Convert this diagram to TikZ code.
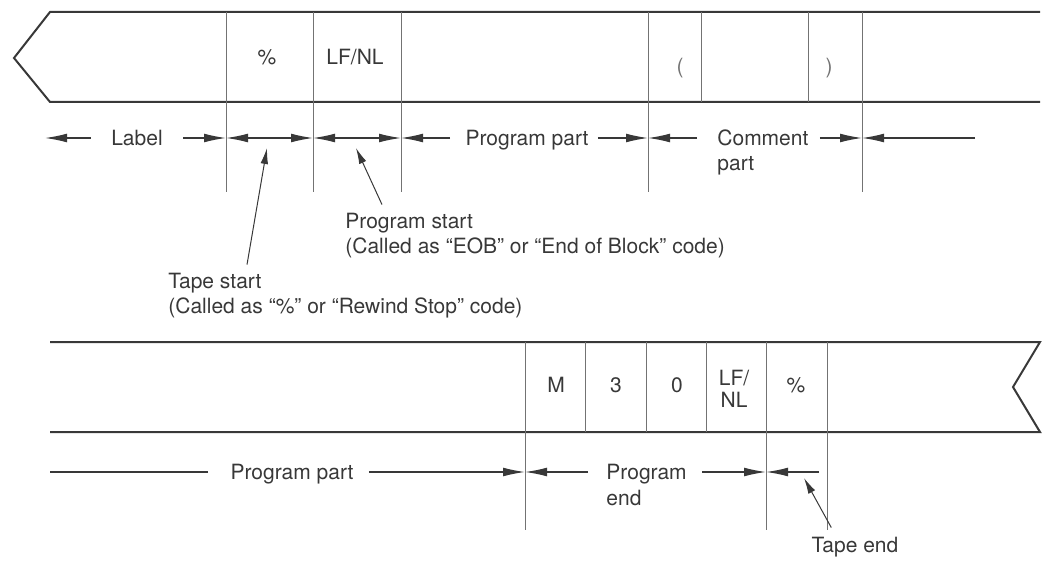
\documentclass[tikz,border=0pt]{standalone}
\usepackage{fontspec}
\setmainfont{TeX Gyre Heros}
\usepackage{tikz}
\usetikzlibrary{arrows.meta}
\usetikzlibrary{positioning}
\definecolor{mgray}{rgb}{0.22, 0.22, 0.22}
\definecolor{lgray}{rgb}{0.45, 0.45, 0.45}
\tikzset{tape/.style = {draw=mgray, line width=1pt, line join=miter}}
\tikzset{cut/.style = {draw=lgray, line width=0.45pt}}
\tikzset{dim/.style = {draw=mgray, line width=0.6pt}}
\tikzset{dimtip/.style = {arrows = {-Latex[length=11pt, width=4.4pt]}}}
\tikzset{dimboth/.style = {arrows = {Latex[length=11pt, width=4.4pt]-Latex[length=11pt, width=4.4pt]}}}
\tikzset{pointer/.style = {draw=mgray, line width=0.5pt, arrows = {-Latex[length=8pt, width=3.8pt]}}}
\tikzset{txt/.style = {text=mgray, inner sep=0, font=\fontsize{10.5pt}{12.5pt}\selectfont,
                       text height=7.5pt, text depth=0pt}}
\tikzset{cell/.style = {txt, anchor=base}}

\begin{document}
\begin{tikzpicture}[x=0.5pt, y=-0.5pt]
      \useasboundingbox (0,0) rectangle (1043,561);

      \draw [tape] (1040,12) -- (50,12) -- (14,58) -- (50,102) -- (1040,102);
      \foreach \x in {226, 313, 401, 648, 862} {
        \draw [cut] (\x,12) -- (\x,192);
      }
      \foreach \x in {701, 808} {
        \draw [cut] (\x,12) -- (\x,102);
      }
      \node [cell] (pct) at (267,65) {\%};
      \node [cell] (lfnl) at (355,65) {LF/NL};
      \node [cell, text=lgray] (lpar) at (680,74) {(};
      \node [cell, text=lgray] (rpar) at (829,74) {)};

      \foreach \x [count=\i] in {226, 313, 401, 648, 862} {
        \coordinate (b\i) at (\x,138);
      }
      \coordinate (lblend) at (45,138);
      \coordinate (rgtend) at (975,138);
      \node [txt] (label) at (137,138) {Label};
      \node [txt] (ppart) at (527,138) {Program part};
      \node [txt, anchor=west] (comment) at (717,138) {Comment};
      \node [txt, anchor=west] (cpart) at ([yshift=-12.5pt]comment.west) {part};

      \draw [dim, dimtip] ([xshift=-10pt]label.west) -- (lblend);
      \draw [dim, dimtip] ([xshift=10pt]label.east) -- (b1);
      \draw [dim, dimboth] (b1) -- (b2);
      \draw [dim, dimboth] (b2) -- (b3);
      \draw [dim, dimtip] ([xshift=-7.5pt]ppart.west) -- (b3);
      \draw [dim, dimtip] ([xshift=4.5pt]ppart.east) -- (b4);
      \draw [dim, dimtip] ([xshift=-10pt]comment.west) -- (b4);
      \draw [dim, dimtip] ([xshift=5.5pt]comment.east) -- (b5);
      \draw [dim, dimtip] (rgtend) -- (b5);

      \node [cell, anchor=base west] (pstart) at (345,228) {Program start};
      \node [cell, anchor=base west] (pstart2) at (345,254) {(Called as “EOB” or “End of Block” code)};
      \node [cell, anchor=base west] (tstart) at (168,288) {Tape start};
      \node [cell, anchor=base west] (tstart2) at (168,313) {(Called as “\%” or “Rewind Stop” code)};
      \coordinate (pstip) at (356,148);
      \coordinate (tstip) at (267,148);
      \draw [pointer] ([shift={(37,-8)}]pstart.north west) -- (pstip);
      \draw [pointer] ([shift={(79,-8)}]tstart.north west) -- (tstip);

      \draw [tape] (50,342) -- (1040,342) -- (1013,387) -- (1040,432) -- (50,432);
      \foreach \x in {525, 766, 827} {
        \draw [cut] (\x,342) -- (\x,530);
      }
      \foreach \x in {585, 646, 706} {
        \draw [cut] (\x,342) -- (\x,432);
      }
      \node [cell] (m) at (556,392) {M};
      \node [cell] (three) at (616,392) {3};
      \node [cell] (zero) at (677,392) {0};
      \node [cell] (lf) at (734,385) {LF/};
      \node [cell] (nl) at (734,407) {NL};
      \node [cell] (pct2) at (796,392) {\%};

      \foreach \x [count=\i] in {525, 766} {
        \coordinate (e\i) at (\x,472);
      }
      \coordinate (pstart3) at (50,472);
      \coordinate (tendline) at (819,472);
      \node [txt] (ppart2) at (292,472) {Program part};
      \node [txt, anchor=west] (pend) at (606,472) {Program};
      \node [txt, anchor=west] (pend2) at ([yshift=-13pt]pend.west) {end};

      \draw [dim] ([xshift=-11pt]ppart2.west) -- (pstart3);
      \draw [dim, dimtip] ([xshift=7.5pt]ppart2.east) -- (e1);
      \draw [dim, dimtip] ([xshift=-9pt]pend.west) -- (e1);
      \draw [dim, dimtip] ([xshift=7.5pt]pend.east) -- (e2);
      \draw [dim, dimtip] (tendline) -- (e2);

      \node [cell] (tend) at (855,552) {Tape end};
      \coordinate (tetip) at (804,478);
      \draw [pointer] ([shift={(20,-9)}]tend.north west) -- (tetip);
    \end{tikzpicture}
\end{document}
